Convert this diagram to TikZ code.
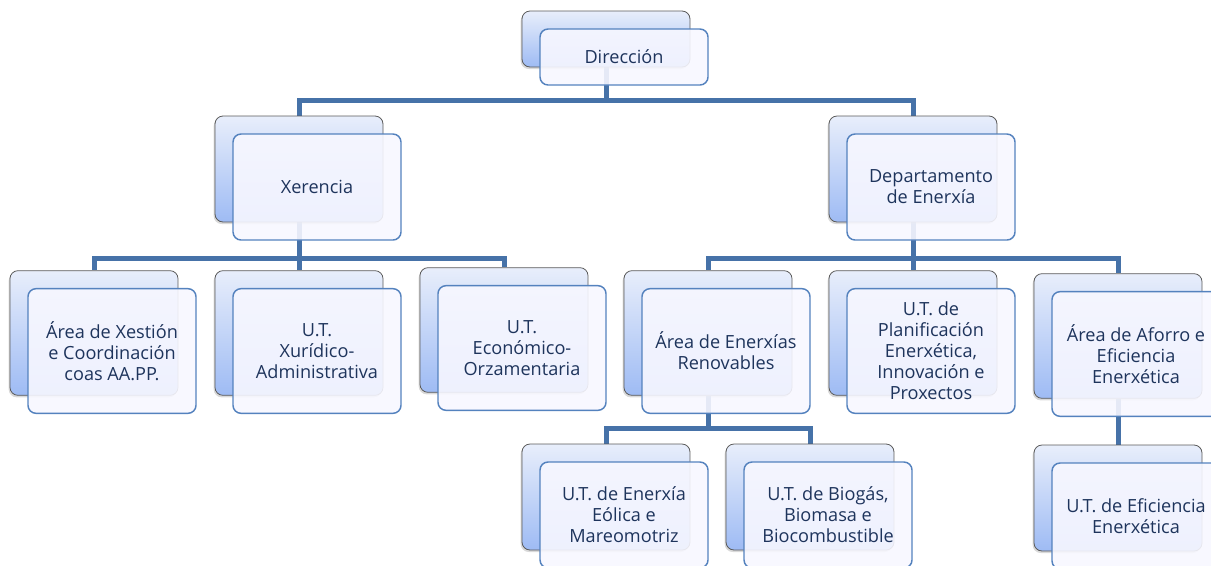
\documentclass[tikz,border=0pt]{standalone}
\usepackage{fontspec}
\setmainfont{Open Sans}
\usepackage{tikz}
\usetikzlibrary{shadows, backgrounds}
\definecolor{liña}{RGB}{70,114,168}
\definecolor{fondoarriba}{RGB}{232,238,251}
\definecolor{fondoabaixo}{RGB}{158,187,244}
\definecolor{bordefondo}{RGB}{90,90,90}
\definecolor{bordefronte}{RGB}{84,130,190}
\definecolor{texto}{RGB}{30,52,92}
\tikzstyle{fondo} = [draw=bordefondo, line width=0.6pt, rounded corners=6pt, top color=fondoarriba, bottom color=fondoabaixo, minimum width=126pt, drop shadow={shadow xshift=-1pt, shadow yshift=-1.5pt, opacity=0.3}]
\tikzstyle{fronte} = [draw=bordefronte, line width=1.1pt, rounded corners=6pt, fill=white!97!blue, fill opacity=0.9, text opacity=1, text=texto, minimum width=126pt, align=center, font=\fontsize{13.6}{15.75}\selectfont]
\tikzstyle{conn} = [draw=liña, line width=3.75pt]
% caixa dobre: nome, x, y, altura, texto
\newcommand{\caixa}[5]{%
  \node[fondo, minimum height=#4] (#1b) at (#2,#3) {};
  \node[fronte, minimum height=#4] (#1) at ([shift={(18,18)}]#1b.center) {#5};
}

\begin{document}
\begin{tikzpicture}[x=0.75pt,y=-0.75pt]
  \clip (0,0) rectangle (1211,565);
  % nivel 0 e 1
  \caixa{dir}{606}{39}{42pt}{Dirección}
  \caixa{xer}{299}{169}{79.5pt}{Xerencia}
  \caixa{dep}{913}{169}{79.5pt}{Departamento\\de Enerxía}
  % nivel 2
  \caixa{axc}{94}{333}{93.5pt}{Área de Xestión\\e Coordinación\\coas AA.PP.}
  \caixa{xur}{299}{333}{93.5pt}{U.T.\\Xurídico-\\Administrativa}
  \caixa{eco}{504}{330}{93.5pt}{U.T.\\Económico-\\Orzamentaria}
  \caixa{ren}{708}{333}{93.5pt}{Área de Enerxías\\Renovables}
  \caixa{pla}{913}{333}{93.5pt}{U.T. de\\Planificación\\Enerxética,\\Innovación e\\Proxectos}
  \caixa{afo}{1118}{336}{93.5pt}{Área de Aforro e\\Eficiencia\\Enerxética}
  % nivel 3
  \caixa{eol}{606}{497}{79.5pt}{U.T. de Enerxía\\Eólica e\\Mareomotriz}
  \caixa{bio}{810}{497}{79.5pt}{U.T. de Biogás,\\Biomasa e\\Biocombustible}
  \caixa{efi}{1118}{498}{79.5pt}{U.T. de Eficiencia\\Enerxética}
  % liñas
  \coordinate (bus1) at (0,100);
  \coordinate (bus2) at (0,258);
  \coordinate (bus3) at (0,428);
  \begin{scope}[on background layer]
    \draw[conn] (dirb.south) -- (dirb.south |- bus1) -| (xerb.north);
    \draw[conn] (dirb.south |- bus1) -| (depb.north);
    \draw[conn] (xerb.south) -- (xerb.south |- bus2) -| (axcb.north);
    \draw[conn] (xerb.south |- bus2) -| (ecob.north);
    \draw[conn] (xerb.south) -- (xurb.north);
    \draw[conn] (depb.south) -- (depb.south |- bus2) -| (renb.north);
    \draw[conn] (depb.south |- bus2) -| (afob.north);
    \draw[conn] (depb.south) -- (plab.north);
    \draw[conn] (renb.south) -- (renb.south |- bus3) -| (eolb.north);
    \draw[conn] (renb.south |- bus3) -| (biob.north);
    \draw[conn] (afob.south) -- (efib.north);
  \end{scope}
\end{tikzpicture}
\end{document}
